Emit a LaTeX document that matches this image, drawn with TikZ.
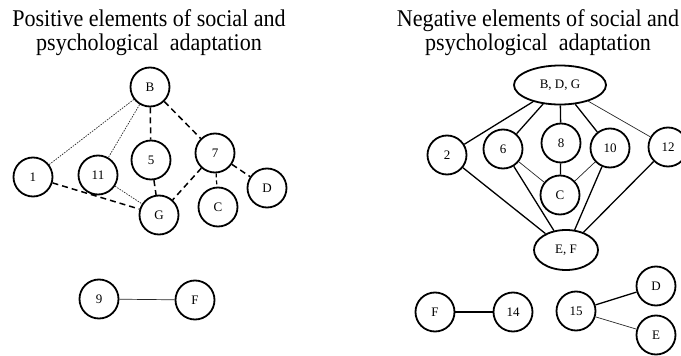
\documentclass[tikz,border=0pt]{standalone}
\usepackage{fontspec}
\setmainfont{Liberation Serif}
\usetikzlibrary{shapes.geometric}
\newcommand{\ttltext}[2]{\scalebox{0.92}[1]{\begin{tabular}[b]{@{}c@{}}#1\\#2\end{tabular}}}
\begin{document}
\begin{tikzpicture}[x=1pt,y=-1pt,
  nd/.style={circle,draw,line width=1.8pt,minimum size=39pt,inner sep=0pt,font=\fontsize{13}{13}\selectfont},
  el/.style={ellipse,draw,line width=1.8pt,inner sep=0pt,font=\fontsize{13}{13}\selectfont},
  dotl/.style={line width=0.7pt,dash pattern=on 1.5pt off 1.2pt,black!85},
  dshl/.style={line width=1.5pt,dash pattern=on 6pt off 4pt},
  dshs/.style={line width=1.2pt,dash pattern=on 4pt off 3pt},
  med/.style={line width=1.3pt},
  thin1/.style={line width=0.7pt,black!85},
  ttl/.style={inner sep=0pt,font=\fontsize{24}{22}\selectfont}]
\useasboundingbox (0,0) rectangle (681,356);
\clip (0,0) rectangle (681,356);
% titles
\node[ttl,anchor=base] (t1) at (149,50) {\ttltext{Positive elements of social and}{psychological\ \ adaptation}};
\node[ttl,anchor=base] (t2) at (538,50) {\ttltext{Negative elements of social and}{psychological\ \ adaptation}};
% left graph
\node[nd] (B) at (150,87) {B};
\node[nd] (n1) at (33,177) {1};
\node[nd] (n11) at (98,175) {11};
\node[nd] (n5) at (151,160) {5};
\node[nd] (n7) at (215,153) {7};
\node[nd] (D) at (267,188) {D};
\node[nd] (C) at (218,207) {C};
\node[nd] (G) at (159,215) {G};
\draw[dotl] (B) -- (n1);
\draw[dotl] (B) -- (n11);
\draw[dshl] (B) -- (n5);
\draw[dshl] (B) -- (n7);
\draw[dshl] (n1) -- (G);
\draw[dotl] (n11) -- (G);
\draw[dshl] (n5) -- (G);
\draw[dshl] (n7) -- (G);
\draw[dshs] (n7) -- (C);
\draw[dshl] (n7) -- (D);
\node[nd] (n9) at (99,299) {9};
\node[nd] (F1) at (195,300) {F};
\draw[thin1] (n9) -- (F1);
% right graph
\node[el,minimum width=92pt,minimum height=39pt] (BDG) at (560,85) {B, D, G};
\node[nd] (n2) at (447,155) {2};
\node[nd] (n6) at (503,149) {6};
\node[nd] (n8) at (561,143) {8};
\node[nd] (n10) at (610,148) {10};
\node[nd] (n12) at (668,147) {12};
\node[nd] (C2) at (560,195) {C};
\node[el,minimum width=64pt,minimum height=40pt] (EF) at (566,250) {E, F};
\draw[med] (BDG) -- (n2);
\draw[med] (BDG) -- (n6);
\draw[med] (BDG) -- (n8);
\draw[med] (BDG) -- (n10);
\draw[thin1] (BDG) -- (n12);
\draw[thin1] (n6) -- (C2);
\draw[med] (n8) -- (C2);
\draw[thin1] (n10) -- (C2);
\draw[med] (n2) -- (EF);
\draw[med] (n6) -- (EF);
\draw[med] (n10) -- (EF);
\draw[med] (n12) -- (EF);
\node[nd] (F2) at (435,312) {F};
\node[nd] (n14) at (513,312) {14};
\node[nd] (n15) at (576,311) {15};
\node[nd] (D2) at (656,286) {D};
\node[nd] (E2) at (656,335) {E};
\draw[med] (F2) -- (n14);
\draw[med] (n15) -- (D2);
\draw[thin1] (n15) -- (E2);
\end{tikzpicture}
\end{document}
